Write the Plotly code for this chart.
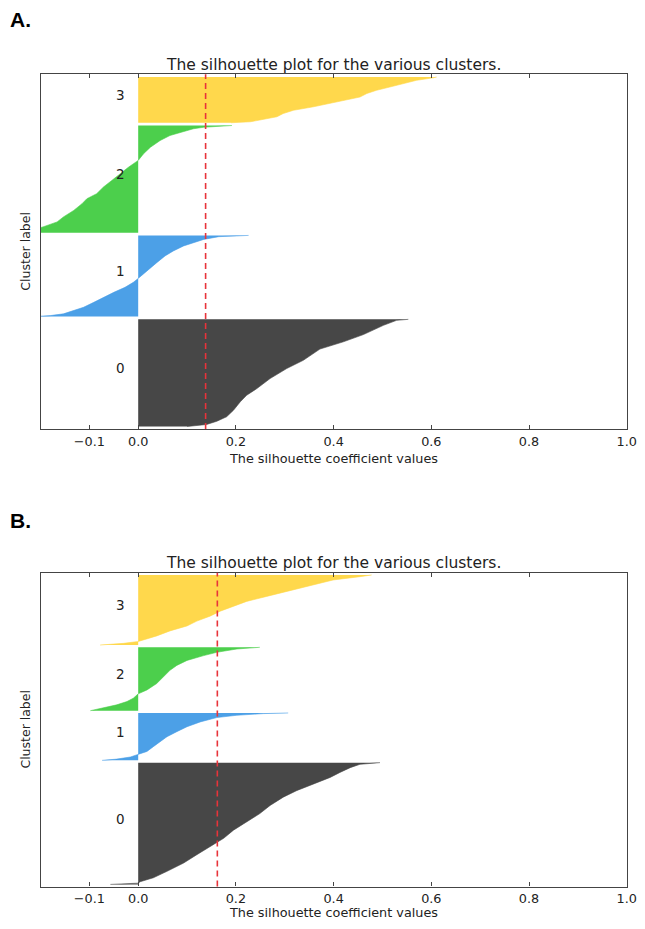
import plotly.graph_objects as go

# ---------------- data ----------------
CLUSTER_NAMES = ["0", "1", "2", "3"]
CLUSTER_COLORS = ["#474747", "#4ca0e7", "#4ccf4c", "#ffd84c"]
X_TICK_VALUES = [-0.1, 0.0, 0.2, 0.4, 0.6, 0.8, 1.0]
X_TICK_LABELS = ["\u22120.1", "0.0", "0.2", "0.4", "0.6", "0.8", "1.0"]
TITLE = "The silhouette plot for the various clusters."
X_LABEL = "The silhouette coefficient values"
Y_LABEL = "Cluster label"

# Panel A: cluster sizes (samples), sorted silhouette values sampled at sample ranks
A_SIZES = [430, 326, 430, 184]
A_C0_RANK = [0, 3, 8, 21, 39, 65, 99, 125, 152, 192, 232, 265, 310, 339, 368, 405, 425, 429]
A_C0_VALUE = [0.100, 0.120, 0.140, 0.161, 0.181, 0.195, 0.209, 0.222, 0.243, 0.270, 0.304, 0.338, 0.372, 0.420, 0.461, 0.502, 0.529, 0.553]
A_C1_RANK = [0, 4, 11, 24, 37, 57, 77, 97, 117, 137, 153, 190, 216, 243, 263, 283, 296, 309, 320, 323, 325]
A_C1_VALUE = [-0.215, -0.180, -0.153, -0.132, -0.112, -0.091, -0.071, -0.050, -0.027, -0.010, 0.000, 0.021, 0.038, 0.055, 0.072, 0.093, 0.113, 0.134, 0.165, 0.190, 0.226]
A_C2_RANK = [0, 9, 23, 43, 63, 89, 116, 136, 156, 183, 209, 236, 262, 289, 316, 342, 369, 389, 402, 416, 422, 429]
A_C2_VALUE = [-0.260, -0.220, -0.195, -0.166, -0.153, -0.132, -0.115, -0.105, -0.085, -0.071, -0.054, -0.037, -0.020, 0.000, 0.011, 0.025, 0.045, 0.065, 0.086, 0.113, 0.134, 0.192]
A_C3_RANK = [0, 4, 11, 24, 37, 50, 64, 77, 90, 103, 117, 130, 143, 156, 170, 180, 183]
A_C3_VALUE = [0.190, 0.230, 0.249, 0.284, 0.297, 0.318, 0.359, 0.393, 0.420, 0.454, 0.468, 0.488, 0.515, 0.543, 0.570, 0.604, 0.611]
A_AVERAGE = 0.138

# Panel B
B_SIZES = [587, 229, 306, 338]
B_C0_RANK = [0, 3, 6, 13, 32, 63, 103, 143, 182, 222, 261, 301, 341, 380, 420, 451, 483, 515, 539, 562, 578, 586]
B_C0_VALUE = [-0.057, -0.030, 0.000, 0.004, 0.031, 0.059, 0.093, 0.120, 0.147, 0.175, 0.195, 0.222, 0.249, 0.270, 0.297, 0.324, 0.359, 0.393, 0.413, 0.434, 0.454, 0.495]
B_C1_RANK = [0, 6, 16, 27, 43, 66, 90, 114, 138, 162, 185, 206, 217, 225, 228]
B_C1_VALUE = [-0.074, -0.044, -0.016, 0.000, 0.018, 0.031, 0.045, 0.059, 0.079, 0.100, 0.127, 0.161, 0.202, 0.256, 0.307]
B_C2_RANK = [0, 13, 28, 44, 60, 81, 100, 131, 163, 194, 218, 242, 265, 281, 297, 305]
B_C2_VALUE = [-0.098, -0.071, -0.044, -0.023, -0.010, 0.000, 0.018, 0.038, 0.052, 0.065, 0.079, 0.100, 0.134, 0.161, 0.202, 0.249]
B_C3_RANK = [0, 8, 17, 28, 44, 68, 92, 115, 139, 163, 187, 210, 234, 250, 266, 282, 297, 313, 329, 337]
B_C3_VALUE = [-0.078, -0.030, 0.000, 0.018, 0.038, 0.065, 0.100, 0.120, 0.147, 0.168, 0.195, 0.222, 0.263, 0.290, 0.318, 0.345, 0.372, 0.399, 0.454, 0.478]
B_AVERAGE = 0.162

GAP = 10  # samples between clusters (as in the sklearn silhouette example)

panels = [
    dict(letter="A.", sizes=A_SIZES,
         ranks=[A_C0_RANK, A_C1_RANK, A_C2_RANK, A_C3_RANK],
         values=[A_C0_VALUE, A_C1_VALUE, A_C2_VALUE, A_C3_VALUE],
         avg=A_AVERAGE, xa="x", ya="y"),
    dict(letter="B.", sizes=B_SIZES,
         ranks=[B_C0_RANK, B_C1_RANK, B_C2_RANK, B_C3_RANK],
         values=[B_C0_VALUE, B_C1_VALUE, B_C2_VALUE, B_C3_VALUE],
         avg=B_AVERAGE, xa="x2", ya="y2"),
]

# ---------------- layout geometry ----------------
PAGE_W, PAGE_H = 645, 929
OFF = 8                      # default body margin of the html page
W, H = PAGE_W - 2 * OFF, PAGE_H - 2 * OFF


def fx(px):                  # page x pixel -> paper fraction
    return (px - OFF) / W


def fy(py):                  # page y pixel -> paper fraction (from bottom)
    return 1 - (py - OFF) / H


PLOT_LEFT, PLOT_RIGHT = 40.5, 626.7
PANEL_PIX = [dict(top=74.3, bottom=429.0, title_y=65, xlabel_y=459, xlabel_anchor="middle", letter_y=19.5),
             dict(top=572.7, bottom=886.5, title_y=563, xlabel_y=921, xlabel_anchor="bottom", letter_y=520)]

FONT = "DejaVu Sans"
TXT = "#222222"
AXC = "#444444"

fig = go.Figure()
annotations = []
shapes = []
layout_axes = {}

for p, pix in zip(panels, PANEL_PIX):
    y_lower = GAP
    for k, name in enumerate(CLUSTER_NAMES):
        size = p["sizes"][k]
        ys = [y_lower + r for r in p["ranks"][k]]
        xs = p["values"][k]
        fig.add_trace(go.Scatter(
            x=xs, y=ys, mode="lines", fill="tozerox",
            fillcolor=CLUSTER_COLORS[k],
            line=dict(color=CLUSTER_COLORS[k], width=0.6),
            xaxis=p["xa"], yaxis=p["ya"], showlegend=False, hoverinfo="skip"))
        annotations.append(dict(
            x=-0.05, y=y_lower + 0.5 * size, xref=p["xa"], yref=p["ya"],
            text=name, showarrow=False, xanchor="left", yanchor="middle",
            yshift=4.5, font=dict(family=FONT, size=13.5, color=TXT)))
        y_lower += size + GAP
    y_max = y_lower

    shapes.append(dict(type="line", xref=p["xa"], yref=p["ya"] + " domain",
                       x0=p["avg"], x1=p["avg"], y0=0, y1=1,
                       line=dict(color="#e8333a", width=1.6, dash="6px,4px")))

    xd = [fx(PLOT_LEFT), fx(PLOT_RIGHT)]
    yd = [fy(pix["bottom"]), fy(pix["top"])]
    suffix = "" if p["xa"] == "x" else "2"
    layout_axes["xaxis" + suffix] = dict(
        domain=xd, range=[-0.2, 1.0], anchor=p["ya"], automargin=False,
        tickvals=X_TICK_VALUES, ticktext=X_TICK_LABELS,
        ticks="inside", ticklen=4, tickwidth=1, tickcolor=AXC,
        mirror="allticks", showline=True, linecolor=AXC, linewidth=1.3,
        showgrid=False, zeroline=False, ticklabeloverflow="allow",
        tickfont=dict(family=FONT, size=12.8, color=TXT))
    layout_axes["yaxis" + suffix] = dict(
        domain=yd, range=[0, y_max], anchor=p["xa"], automargin=False,
        showticklabels=False, ticks="", showline=True, mirror=True,
        linecolor=AXC, linewidth=1.3, showgrid=False, zeroline=False)

    xc = fx((PLOT_LEFT + PLOT_RIGHT) / 2)
    annotations.append(dict(x=xc, y=fy(pix["title_y"]), xref="paper", yref="paper",
                            text=TITLE, showarrow=False, xanchor="center", yanchor="middle",
                            font=dict(family=FONT, size=15.5, color=TXT)))
    annotations.append(dict(x=xc, y=fy(pix["xlabel_y"]), xref="paper", yref="paper",
                            text=X_LABEL, showarrow=False, xanchor="center",
                            yanchor=pix["xlabel_anchor"], borderpad=0,
                            font=dict(family=FONT, size=12.8, color=TXT)))
    annotations.append(dict(x=fx(26), y=fy((pix["top"] + pix["bottom"]) / 2),
                            xref="paper", yref="paper", text=Y_LABEL, textangle=-90,
                            showarrow=False, xanchor="center", yanchor="middle",
                            font=dict(family=FONT, size=12.5, color=TXT)))
    annotations.append(dict(x=fx(9), y=fy(pix["letter_y"]), xref="paper", yref="paper",
                            text="<b>" + p["letter"] + "</b>", showarrow=False,
                            xanchor="left", yanchor="middle", borderpad=0,
                            font=dict(family="Liberation Sans, Arial", size=21, color="#000000")))

fig.update_layout(
    width=W, height=H, margin=dict(l=0, r=0, t=0, b=0, autoexpand=False),
    paper_bgcolor="white", plot_bgcolor="white",
    annotations=annotations, shapes=shapes, showlegend=False,
    **layout_axes)

fig.write_html("out.html")
